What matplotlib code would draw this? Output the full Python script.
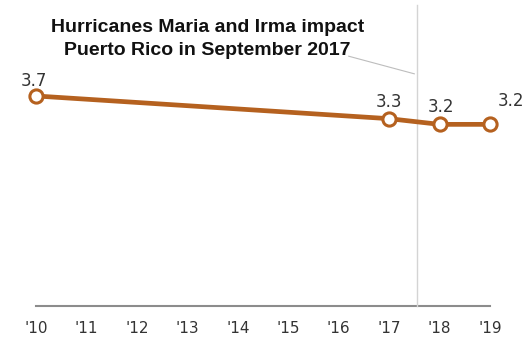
import matplotlib.pyplot as plt

# data
years = [2010, 2017, 2018, 2019]
values = [3.7, 3.3, 3.2, 3.2]
tick_years = list(range(2010, 2020))
tick_labels = ["'%02d" % (y - 2000) for y in tick_years]
hurricane_x = 2017.55
note = "Hurricanes Maria and Irma impact\nPuerto Rico in September 2017"

col = '#b5611f'

fig = plt.figure(figsize=(5.23, 3.39), dpi=100, facecolor='w')
ax = fig.add_axes([0, 0, 1, 1])
ax.set_xlim(2009.286, 2019.655)
ax.set_ylim(-0.58, 5.39)
ax.axis('off')

# baseline + hurricane marker line
ax.plot([2010, 2019], [0, 0], color='#8c8c8c', lw=1.5, zorder=1)
ax.plot([hurricane_x, hurricane_x], [0, 5.3], color='#d4d4d4', lw=1, zorder=1)

ax.plot(years, values, color=col, lw=3.4, marker='o', ms=9.5,
        markerfacecolor='white', markeredgecolor=col, markeredgewidth=2.2, zorder=3)

# value labels
offs = [(-0.05, 0.27), (0, 0.3), (0.02, 0.31), (0.42, 0.42)]
for x, v, (dx, dy) in zip(years, values, offs):
    ax.text(x + dx, v + dy, '%.1f' % v, ha='center', va='center',
            fontsize=12, color='#333333')

for x, lab in zip(tick_years, tick_labels):
    ax.text(x, -0.4, lab, ha='center', va='center', fontsize=11, color='#333333')

ax.text(2013.4, 4.70, note, ha='center', va='center', fontsize=14,
        fontweight='bold', color='#111111', linespacing=1.42,
        family='Liberation Sans')
ax.plot([2016.2, 2017.5], [4.40, 4.09], color='#bdbdbd', lw=0.8)

fig.savefig('out.png', dpi=100)
